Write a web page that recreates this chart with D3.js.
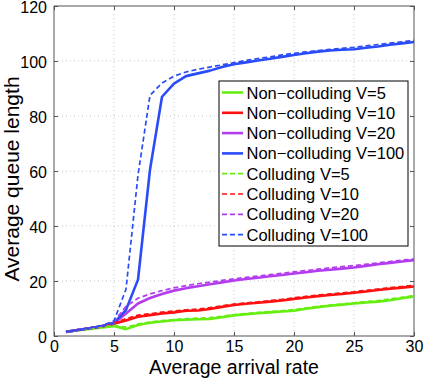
<!DOCTYPE html>
<html>
<head>
<meta charset="utf-8">
<script src="https://cdn.jsdelivr.net/npm/d3@7"></script>
<style>
	body { margin: 0; background: #fff; }
	text { font-family: "Liberation Sans", Arial, sans-serif; fill: #000; }
</style>
</head>
<body>
<div id="chart"></div>
<script>
var margin = {top: 6, right: 11, bottom: 42, left: 54},
	width = 360,
	height = 330;

// arrival rates
var rates = d3.range(1, 31);

var ncV5 = [1.5, 2.1, 2.6, 3.1, 3.6, 2.5, 4.0, 4.8, 5.3, 5.7, 5.9, 6.1, 6.2, 6.8, 7.5, 7.9, 8.3, 8.6, 8.9, 9.2, 9.9, 10.5, 11.0, 11.4, 11.8, 12.2, 12.5, 13.0, 13.7, 14.4];
var ncV10 = [1.5, 2.2, 2.8, 3.5, 4.5, 5.6, 7.0, 7.6, 8.2, 8.6, 9.2, 9.3, 9.8, 10.6, 11.3, 11.7, 12.1, 12.5, 12.9, 13.5, 14.0, 14.5, 14.9, 15.3, 15.7, 16.2, 16.7, 17.2, 17.6, 18.0];
var ncV20 = [1.5, 2.2, 2.8, 3.5, 4.6, 8.2, 11.8, 13.8, 15.3, 16.5, 17.4, 18.1, 18.8, 19.5, 20.2, 20.7, 21.2, 21.7, 22.2, 22.7, 23.2, 23.7, 24.1, 24.5, 24.9, 25.5, 26.1, 26.6, 27.1, 27.6];
var ncV100 = [1.5, 2.2, 2.8, 3.6, 4.8, 9.5, 20.5, 60.5, 87, 91.8, 94.5, 95.5, 96.5, 97.8, 98.8, 99.5, 100.2, 100.8, 101.5, 102.2, 102.8, 103.4, 103.8, 104.1, 104.3, 104.8, 105.3, 105.9, 106.4, 106.9];
var cV5 = [1.5, 2.2, 2.7, 3.3, 3.8, 3.2, 4.4, 5.1, 5.6, 6.0, 6.3, 6.5, 6.7, 7.2, 7.8, 8.2, 8.6, 8.9, 9.2, 9.6, 10.2, 10.8, 11.2, 11.6, 12.1, 12.5, 12.9, 13.5, 14.1, 14.7];
var cV10 = [1.5, 2.3, 3.0, 3.7, 4.8, 6.3, 7.6, 8.1, 8.7, 9.1, 9.5, 9.8, 10.3, 11.0, 11.6, 12.0, 12.4, 12.9, 13.3, 13.9, 14.4, 14.9, 15.3, 15.7, 16.1, 16.6, 17.1, 17.6, 18.0, 18.4];
var cV20 = [1.5, 2.3, 3.0, 3.8, 5.2, 10.8, 13.7, 15.3, 16.5, 17.5, 18.3, 19.0, 19.6, 20.2, 20.8, 21.3, 21.8, 22.3, 22.8, 23.3, 23.8, 24.3, 24.8, 25.2, 25.6, 26.1, 26.6, 27.1, 27.6, 28.0];
var cV100 = [1.5, 2.3, 3.0, 3.8, 5.5, 17, 58.5, 87.5, 92, 94.5, 96, 97, 97.8, 98.6, 99.4, 100.2, 100.9, 101.5, 102.2, 102.8, 103.3, 103.8, 104.2, 104.6, 105, 105.5, 106, 106.5, 107, 107.5];

var seriesNames = ["Non\u2212colluding V=5", "Non\u2212colluding V=10", "Non\u2212colluding V=20", "Non\u2212colluding V=100",
	"Colluding V=5", "Colluding V=10", "Colluding V=20", "Colluding V=100"];
var seriesValues = [ncV5, ncV10, ncV20, ncV100, cV5, cV10, cV20, cV100];
var seriesColors = ["#66ee11", "#ff1010", "#b43cf0", "#2a4bf8", "#66ee11", "#ff1010", "#b43cf0", "#2a4bf8"];
var seriesDashed = [false, false, false, false, true, true, true, true];

var xTicks = [0, 5, 10, 15, 20, 25, 30];
var yTicks = [0, 20, 40, 60, 80, 100, 120];

var xScale = d3.scaleLinear().domain([0, 30]).range([0, width]);
var yScale = d3.scaleLinear().domain([0, 120]).range([height, 0]);

var svg = d3.select("#chart")
	.append("svg")
	.attr("width", 425)
	.attr("height", 378)
	.append("g")
	.attr("transform", "translate(" + margin.left + "," + margin.top + ")");

// grid
svg.append("g")
	.selectAll("line")
	.data(xTicks.slice(1, -1))
	.enter()
	.append("line")
	.attr("x1", function(d) { return xScale(d); })
	.attr("x2", function(d) { return xScale(d); })
	.attr("y1", 0)
	.attr("y2", height)
	.attr("stroke", "#c8c8c8")
	.attr("stroke-dasharray", "1,3");

svg.append("g")
	.selectAll("line")
	.data(yTicks.slice(1, -1))
	.enter()
	.append("line")
	.attr("x1", 0)
	.attr("x2", width)
	.attr("y1", function(d) { return yScale(d); })
	.attr("y2", function(d) { return yScale(d); })
	.attr("stroke", "#c8c8c8")
	.attr("stroke-dasharray", "1,3");

// axes, ticks inward on all sides
var axisColor = "#555";
function styleAxis(g, labels) {
	g.select(".domain").remove();
	g.selectAll(".tick line").attr("stroke", axisColor);
	if (!labels) {
		g.selectAll(".tick text").remove();
		return;
	}
	g.selectAll(".tick text")
		.style("font-size", "16px")
		.style("font-family", "'Liberation Sans', Arial, sans-serif")
		.attr("fill", "#000");
}

svg.append("g")
	.attr("transform", "translate(0," + height + ")")
	.call(d3.axisBottom(xScale).tickValues(xTicks).tickSizeInner(-4).tickSizeOuter(0).tickPadding(5))
	.call(styleAxis, true);

svg.append("g")
	.call(d3.axisTop(xScale).tickValues(xTicks).tickSizeInner(-4).tickSizeOuter(0))
	.call(styleAxis, false);

svg.append("g")
	.call(d3.axisLeft(yScale).tickValues(yTicks).tickSizeInner(-4).tickSizeOuter(0).tickPadding(7))
	.call(styleAxis, true)
	.selectAll(".tick text")
	.attr("dy", "0.4em");

svg.append("g")
	.attr("transform", "translate(" + width + ",0)")
	.call(d3.axisRight(yScale).tickValues(yTicks).tickSizeInner(-4).tickSizeOuter(0))
	.call(styleAxis, false);

svg.append("rect")
	.attr("width", width)
	.attr("height", height)
	.attr("fill", "none")
	.attr("stroke", axisColor)
	.attr("stroke-width", 1);

// lines
var line = d3.line()
	.x(function(d, i) { return xScale(rates[i]); })
	.y(function(d) { return yScale(d); });

svg.append("g")
	.selectAll("path")
	.data(seriesValues)
	.enter()
	.append("path")
	.attr("d", line)
	.attr("fill", "none")
	.attr("stroke", function(d, i) { return seriesColors[i]; })
	.attr("stroke-width", function(d, i) { return seriesDashed[i] ? 1.7 : 2.6; })
	.attr("stroke-dasharray", function(d, i) { return seriesDashed[i] ? "5,3" : null; })
	.attr("stroke-linejoin", "round");

// axis labels
svg.append("text")
	.attr("x", width / 2)
	.attr("y", 373.5 - margin.top)
	.attr("text-anchor", "middle")
	.style("font-size", "19.5px")
	.text("Average arrival rate");

svg.append("text")
	.attr("transform", "translate(" + (19 - margin.left) + "," + (179 - margin.top) + ") rotate(-90)")
	.attr("text-anchor", "middle")
	.style("font-size", "21px")
	.text("Average queue length");

// legend
var legend = svg.append("g")
	.attr("transform", "translate(" + (219 - margin.left) + "," + (81 - margin.top) + ")");

legend.append("rect")
	.attr("width", 189)
	.attr("height", 165)
	.attr("fill", "#fff")
	.attr("stroke", "#000")
	.attr("stroke-width", 1);

var rows = legend.selectAll(".row")
	.data(seriesNames)
	.enter()
	.append("g")
	.attr("class", "row")
	.attr("transform", function(d, i) { return "translate(0," + (11.5 + i * 20.3) + ")"; });

rows.append("line")
	.attr("x1", 3)
	.attr("x2", 24)
	.attr("stroke", function(d, i) { return seriesColors[i]; })
	.attr("stroke-width", function(d, i) { return seriesDashed[i] ? 1.7 : 2.6; })
	.attr("stroke-dasharray", function(d, i) { return seriesDashed[i] ? "5,3" : null; });

rows.append("text")
	.attr("x", 27.5)
	.attr("y", 6)
	.style("font-size", "16.5px")
	.text(function(d) { return d; });
</script>
</body>
</html>
